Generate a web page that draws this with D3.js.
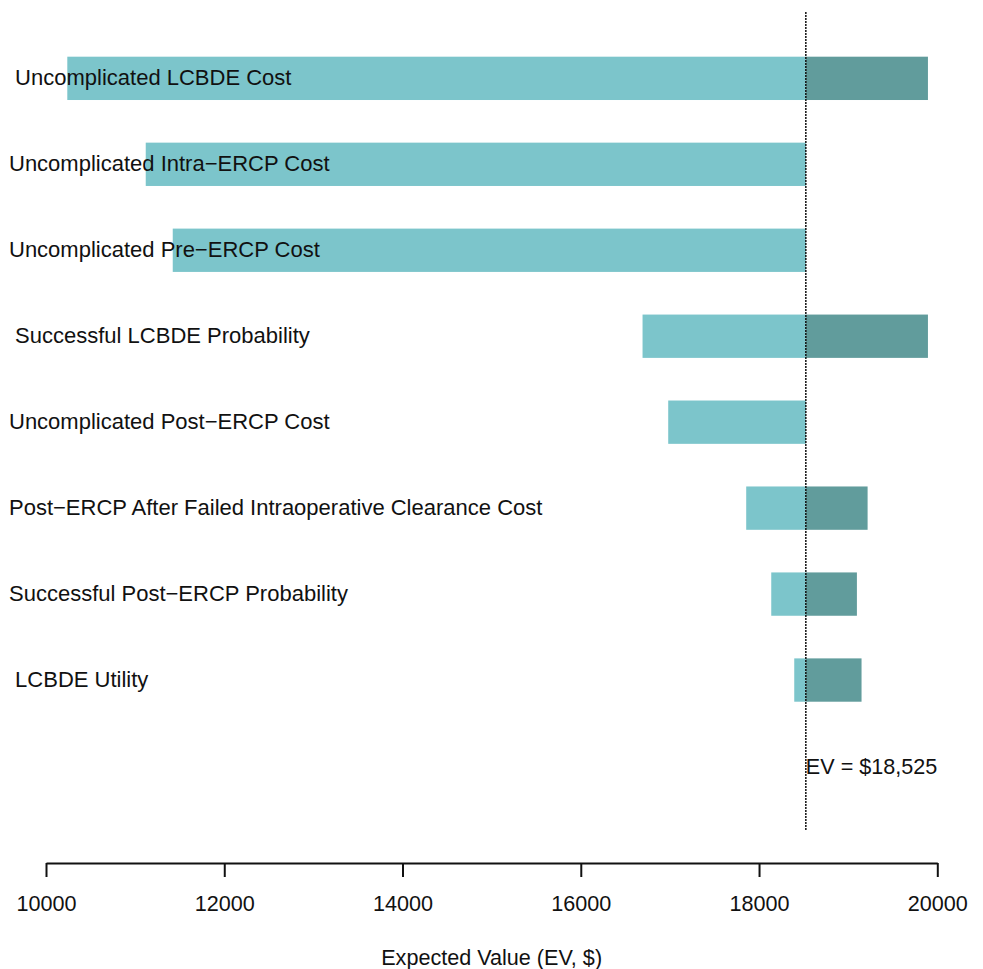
<!DOCTYPE html>
<html>
<head>
<meta charset="utf-8">
<script src="https://cdn.jsdelivr.net/npm/d3@7"></script>
<style>
  html, body { margin: 0; padding: 0; background: #fff; }
  svg { display: block; font-family: "Liberation Sans", Arial, sans-serif; }
  text { white-space: pre; }
</style>
</head>
<body>
<svg id="chart" width="983" height="969"></svg>
<script>
// One-way sensitivity (tornado) data
const categories = [
  " Uncomplicated LCBDE Cost",
  "Uncomplicated Intra\u2212ERCP Cost",
  "Uncomplicated Pre\u2212ERCP Cost",
  " Successful LCBDE Probability",
  "Uncomplicated Post\u2212ERCP Cost",
  "Post\u2212ERCP After Failed Intraoperative Clearance Cost",
  "Successful Post\u2212ERCP Probability",
  " LCBDE Utility"
];
const lowValues  = [10239, 11119, 11422, 16693, 16981, 17856, 18137, 18395];
const highValues = [19895, 18525, 18525, 19895, 18525, 19218, 19098, 19150];
const baseEV = 18525;
const xTicks = [10000, 12000, 14000, 16000, 18000, 20000];
const xTitle = "Expected Value (EV, $)";

const svg = d3.select("#chart");
const fontSize = 21.6;
const labelSize = 22;

const x = d3.scaleLinear().domain([10000, 20000]).range([46, 937.3]);
const y = d3.scaleBand().domain(categories)
  .range([35.2, 723.2]).paddingInner(0.496).paddingOuter(0.25);

const rows = categories.map((c, i) => ({ cat: c, low: lowValues[i], high: highValues[i] }));

// left part (below the base EV)
svg.append("g").selectAll("rect").data(rows).join("rect")
  .attr("x", d => x(Math.min(d.low, baseEV)))
  .attr("y", d => y(d.cat))
  .attr("width", d => x(baseEV) - x(Math.min(d.low, baseEV)))
  .attr("height", y.bandwidth())
  .attr("fill", "#7cc5cb");

// right part (above the base EV)
svg.append("g").selectAll("rect").data(rows.filter(d => d.high > baseEV)).join("rect")
  .attr("x", x(baseEV))
  .attr("y", d => y(d.cat))
  .attr("width", d => x(d.high) - x(baseEV))
  .attr("height", y.bandwidth())
  .attr("fill", "#619c9c");

// category labels
svg.append("g").selectAll("text").data(rows).join("text")
  .attr("x", 9)
  .attr("y", d => y(d.cat) + y.bandwidth() / 2 - 1)
  .attr("dy", "0.35em")
  .attr("font-size", labelSize)
  .attr("fill", "#111")
  .text(d => d.cat);

// base EV reference line and label
svg.append("line")
  .attr("x1", x(baseEV)).attr("x2", x(baseEV))
  .attr("y1", 12).attr("y2", 831)
  .attr("stroke", "#111").attr("stroke-width", 1.5)
  .attr("stroke-dasharray", "2,1");

svg.append("text")
  .attr("x", x(baseEV))
  .attr("y", y(categories[categories.length - 1]) + y.step() + y.bandwidth() / 2)
  .attr("dy", "0.35em")
  .attr("font-size", fontSize)
  .attr("fill", "#111")
  .text("EV = $" + d3.format(",")(baseEV));

// x axis
const axis = svg.append("g")
  .attr("transform", "translate(0,863)")
  .call(d3.axisBottom(x).tickValues(xTicks).tickFormat(d3.format("d"))
    .tickSizeOuter(0).tickSizeInner(14).tickPadding(19));
axis.select(".domain").attr("stroke", "#111").attr("stroke-width", 2);
axis.selectAll(".tick line").attr("stroke", "#111").attr("stroke-width", 2);
axis.selectAll(".tick text")
  .attr("font-size", fontSize)
  .attr("font-family", "Liberation Sans, Arial, sans-serif")
  .attr("fill", "#111");

svg.append("text")
  .attr("x", (x.range()[0] + x.range()[1]) / 2)
  .attr("y", 957)
  .attr("dy", "0.35em")
  .attr("text-anchor", "middle")
  .attr("font-size", fontSize)
  .attr("fill", "#111")
  .text(xTitle);
</script>
</body>
</html>
